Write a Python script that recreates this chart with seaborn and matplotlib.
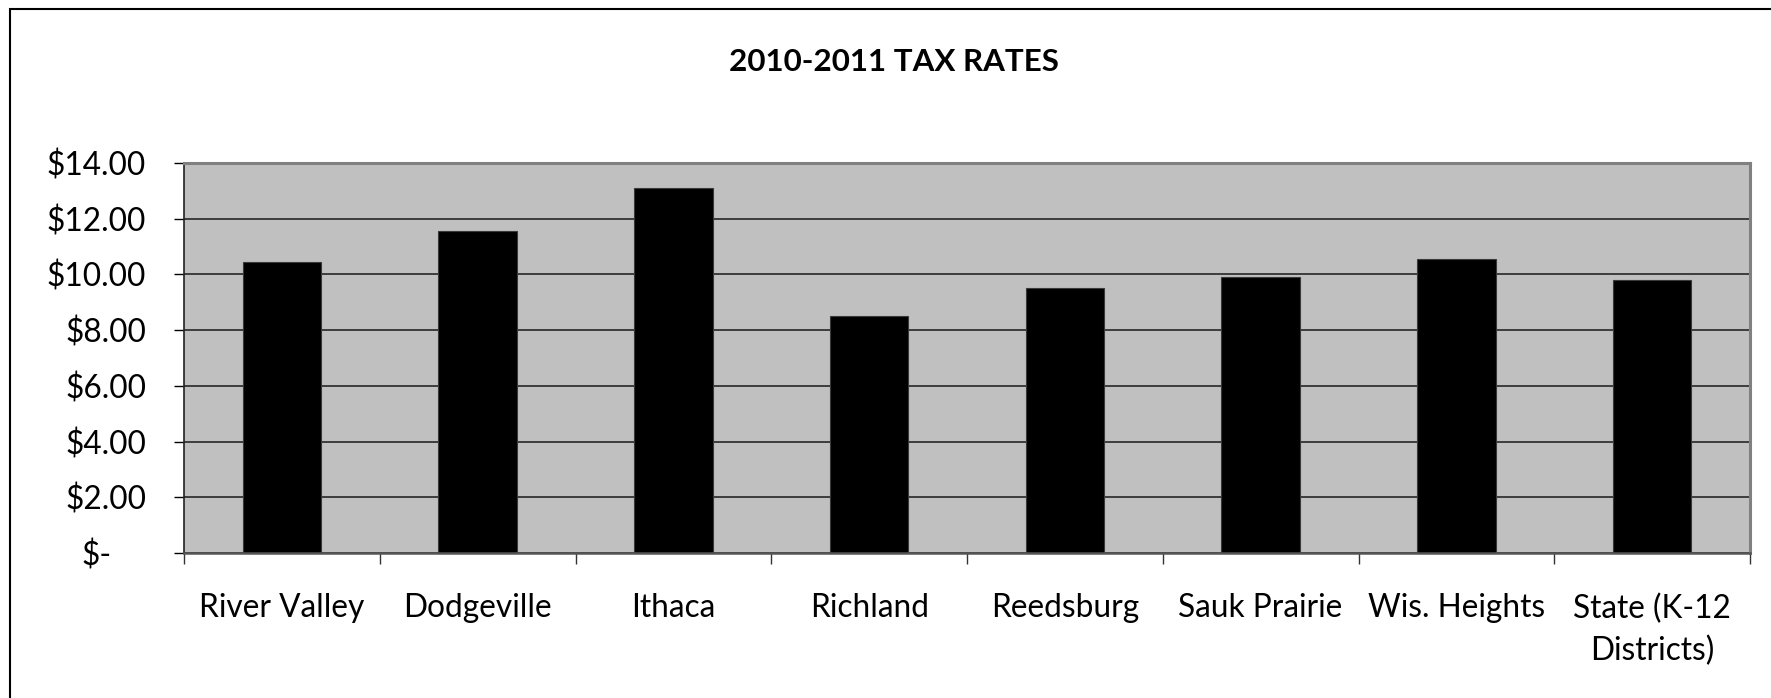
import matplotlib
matplotlib.use("Agg")
import matplotlib.pyplot as plt
import matplotlib.patches as mpatches
from matplotlib.transforms import ScaledTranslation
import seaborn as sns
import pandas as pd

categories = ["River Valley", "Dodgeville", "Ithaca", "Richland", "Reedsburg",
              "Sauk Prairie", "Wis. Heights", "State (K-12\nDistricts)"]
tax_rates = [10.45, 11.56, 13.11, 8.51, 9.53, 9.90, 10.54, 9.81]
y_ticks = [0, 2, 4, 6, 8, 10, 12, 14]
y_tick_labels = ["$-", "$2.00", "$4.00", "$6.00", "$8.00", "$10.00", "$12.00", "$14.00"]
title = "2010-2011 TAX RATES"

sns.set_theme(style="white")
plt.rcParams["font.family"] = ["Lato", "DejaVu Sans"]

W, H = 1771, 698
fig = plt.figure(figsize=(W / 100, H / 100), dpi=100)
fig.patch.set_facecolor("white")

ax = fig.add_axes([184 / W, 1 - 553 / H, (1750 - 184) / W, (553 - 163) / H])
df = pd.DataFrame({"district": categories, "rate": tax_rates})
sns.barplot(data=df, x="district", y="rate", color="black", width=0.4,
            edgecolor="#3a3a3a", linewidth=0.8, saturation=1, ax=ax)

ax.set_facecolor("#c0c0c0")
ax.set_xlim(-0.5, len(categories) - 0.5)
ax.set_ylim(0, 14)
ax.set_xlabel("")
ax.set_ylabel("")
ax.set_axisbelow(True)
ax.yaxis.grid(True, color="#1a1a1a", linewidth=1.1)
ax.xaxis.grid(False)

ax.set_yticks(y_ticks)
ax.set_yticklabels(y_tick_labels)
ax.tick_params(axis="y", which="major", direction="out", length=7.2, width=1,
               color="black", pad=20, labelsize=22.8, labelcolor="black", left=True)
# "$-" sits a little left of the right-aligned column
lab0 = ax.get_yticklabels()[0]
lab0.set_transform(lab0.get_transform() + ScaledTranslation(-0.35, 0, fig.dpi_scale_trans))

ax.set_xticks(range(len(categories)))
ax.set_xticklabels(categories, linespacing=1.5)
ax.set_xticks([i - 0.5 for i in range(len(categories) + 1)], minor=True)
ax.tick_params(axis="x", which="major", length=0, pad=29, labelsize=22.8, labelcolor="black")
ax.tick_params(axis="x", which="minor", direction="out", length=8, width=1,
               color="#333333", bottom=True)

for side in ["top", "right"]:
    ax.spines[side].set_color("#808080")
    ax.spines[side].set_linewidth(2.2)
    ax.spines[side].set_visible(True)
ax.spines["left"].set_color("#222222")
ax.spines["left"].set_linewidth(1.2)
ax.spines["bottom"].set_color("#555555")
ax.spines["bottom"].set_linewidth(1.8)

fig.text(893.5 / W, 1 - 62 / H, title, ha="center", va="center",
         fontsize=22.6, fontweight="bold", color="black")

# outer chart frame (cropped on right and bottom in the original)
frame = mpatches.Rectangle((10 / W, -0.2), 1.0, (H - 9) / H + 0.2,
                           transform=fig.transFigure, fill=False,
                           edgecolor="black", linewidth=1.5, clip_on=False)
fig.add_artist(frame)

fig.savefig("out.png", dpi=100)
